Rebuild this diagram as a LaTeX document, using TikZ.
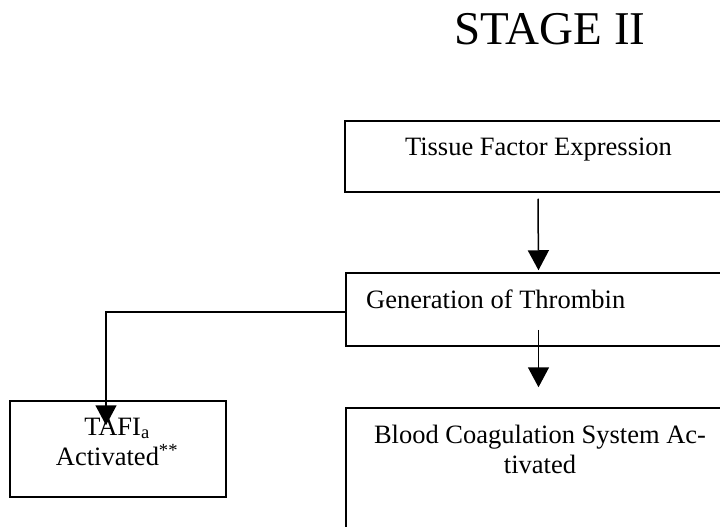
\documentclass[tikz,border=0pt]{standalone}
\usepackage{fontspec}
\setmainfont{Liberation Serif}
\usetikzlibrary{arrows.meta, positioning}

\begin{document}
\begin{tikzpicture}[x=1pt, y=-1pt,
    flowbox/.style={draw, line width=1.5pt, inner sep=0pt},
    boxtext/.style={inner sep=0pt, font=\fontsize{26.5}{30}\selectfont, align=center},
    arrow/.style={-{Triangle[length=20pt, width=21pt]}, line width=1.5pt}
]
\useasboundingbox (0,0) rectangle (720,527);

% boxes
\node[flowbox, minimum width=386pt, minimum height=71pt] (tissue) at (538,156.5) {};
\node[flowbox, minimum width=385pt, minimum height=73pt] (gen) at (538.5,309.5) {};
\node[flowbox, minimum width=385pt, minimum height=160pt] (blood) at (538.5,488) {};
\node[flowbox, minimum width=216pt, minimum height=96pt] (tafi) at (118,449) {};

% texts
\node[inner sep=0pt, anchor=base, font=\fontsize{47}{56}\selectfont] (title) at (550,45) {STAGE II};
\node[boxtext, anchor=base] (tissuetxt) at (538.5,155) {Tissue Factor Expression};
\node[boxtext, anchor=base west] (gentxt) at (366,308) {Generation of Thrombin};
\node[boxtext, anchor=north] (bloodtxt) at (540,425) {Blood Coagulation System Ac-\\tivated};
\node[boxtext, anchor=north] (tafitxt) at (117,417.5) {TAFI\textsubscript{a}\\Activated\textsuperscript{**}};

% connectors
\draw[arrow] ([yshift=-6pt]tissue.south) -- ([yshift=2pt]gen.north);
\draw[arrow] ([yshift=17pt]gen.south) -- ([yshift=20pt]blood.north);
\draw[arrow] ([yshift=-2.5pt]gen.west) -| ([xshift=-12pt, yshift=-25pt]tafi.north);
\end{tikzpicture}
\end{document}
